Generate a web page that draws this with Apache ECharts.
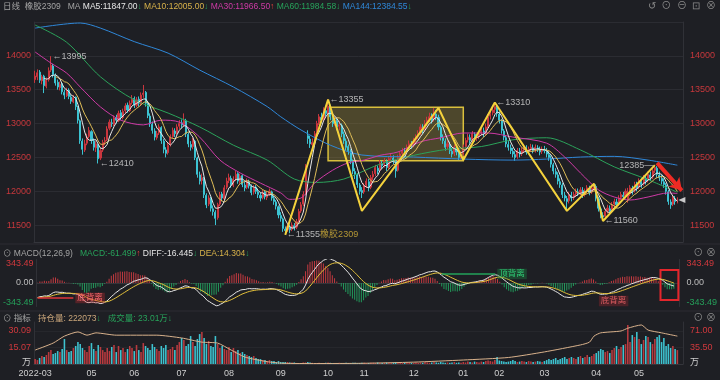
<!DOCTYPE html>
<html><head><meta charset="utf-8"><title>橡胶2309</title>
<script src="https://cdn.jsdelivr.net/npm/echarts/dist/echarts.min.js"></script>
<style>html,body{margin:0;padding:0;background:#1e1f24;overflow:hidden}#chart{width:720px;height:380px}</style>
</head><body><div id="chart"></div>
<script>
// ---------------- data ----------------
const months = ['2022-03','2022-04','2022-05','2022-06','2022-07','2022-08','2022-09','2022-10','2022-11','2022-12','2023-01','2023-02','2023-03','2023-04','2023-05'];
const monthBarCounts = [6,19,19,21,21,23,21,16,22,22,16,20,23,19,18];
const monthTickLabels = ['2022-03','','05','06','07','08','09','10','11','12','01','02','03','04','05'];
const padSlots = 2;

// daily candles [open, close, low, high]
const ohlc = [
[13650,13700,13600,13780],[13690,13750,13640,13800],[13760,13640,13600,13790],[13630,13690,13580,13720],[13700,13560,13450,13720],
[13550,13640,13520,13680],[13650,13780,13620,13830],[13790,13860,13760,13995],[13850,13720,13680,13880],[13710,13600,13560,13740],
[13610,13540,13500,13650],[13530,13580,13490,13620],[13590,13470,13430,13610],[13460,13420,13360,13500],[13410,13480,13390,13530],
[13490,13400,13360,13520],[13390,13330,13290,13420],[13320,13380,13300,13420],[13390,13250,13200,13400],[13240,13050,13000,13260],
[13040,12750,12700,13060],[12740,12620,12540,12780],[12610,12700,12580,12760],[12710,12800,12680,12850],[12810,12900,12780,12950],
[12880,12750,12700,12900],[12740,12650,12600,12780],[12640,12700,12580,12740],[12690,12480,12410,12700],[12490,12600,12460,12640],
[12610,12720,12580,12760],[12730,12750,12680,12800],[12760,12920,12740,12960],[12930,13020,12900,13060],[13010,13000,12950,13070],
[12990,13080,12960,13120],[13090,13050,13000,13130],[13040,13150,13020,13190],[13160,13100,13050,13200],[13090,13180,13060,13220],
[13190,13260,13150,13300],[13270,13200,13160,13310],[13190,13300,13170,13340],[13310,13360,13280,13420],[13370,13280,13230,13400],
[13270,13350,13240,13390],[13360,13300,13250,13400],[13290,13420,13270,13460],[13430,13450,13380,13570],[13460,13300,13250,13480],
[13290,13120,13080,13320],[13110,13000,12950,13150],[12990,12900,12850,13030],[12890,12800,12750,12930],[12790,12850,12760,12890],
[12860,12950,12830,12990],[12940,12750,12700,12960],[12740,12620,12560,12770],[12610,12560,12500,12650],[12570,12680,12540,12720],
[12690,12800,12660,12840],[12810,12900,12780,12940],[12890,12850,12800,12930],[12860,12950,12830,12990],[12960,13000,12920,13050],
[13010,12980,12930,13060],[12990,13050,12950,13150],[13040,12850,12800,13070],[12840,12700,12650,12870],[12690,12650,12600,12740],
[12660,12750,12620,12790],[12740,12500,12460,12760],[12490,12250,12200,12510],[12240,12150,12100,12290],[12160,12200,12100,12260],
[12190,11950,11900,12210],[11940,11800,11750,11970],[11810,11900,11780,11940],[11890,11750,11700,11920],[11740,11700,11640,11790],
[11690,11600,11500,11720],[11610,11800,11580,11830],[11810,11950,11780,11990],[11960,11900,11850,11990],[11890,12050,11870,12090],
[12060,12150,12030,12200],[12160,12200,12120,12260],[12190,12100,12050,12230],[12090,12180,12060,12220],[12190,12250,12150,12300],
[12260,12150,12110,12280],[12140,12220,12110,12260],[12230,12100,12060,12250],[12090,12050,12000,12140],[12060,12150,12030,12190],
[12140,12080,12040,12170],[12070,11980,11940,12100],[11990,12050,11950,12090],[12060,12000,11960,12090],[11990,11950,11900,12040],
[11940,11900,11850,11980],[11910,11980,11880,12020],[11990,11920,11880,12010],[11910,11950,11870,11990],[11960,12000,11930,12040],
[11990,11900,11860,12010],[11890,11850,11800,11930],[11840,11780,11730,11870],[11770,11650,11600,11790],[11640,11600,11550,11690],
[11590,11450,11400,11610],[11440,11420,11355,11480],[11430,11480,11400,11520],[11470,11430,11380,11510],[11440,11500,11410,11540],
[11490,11460,11420,11530],[11470,11550,11440,11590],[11560,11700,11540,11740],[11710,11800,11680,11840],[11810,11950,11780,12000],
[11960,12350,11940,12400],[12820,12780,12700,12900],[12770,12700,12640,12820],[12690,12720,12620,12780],[12730,12850,12700,12890],
[12860,13000,12830,13040],[13010,13100,12980,13140],[13090,13050,13000,13160],[13060,13200,13030,13240],[13190,13150,13100,13260],
[13160,13250,13120,13355],[13240,13100,13050,13280],[13090,13000,12950,13150],[13010,13050,12970,13100],[13040,12950,12900,13080],
[12960,12980,12900,13040],[12970,12850,12800,13000],[12840,12750,12700,12880],[12740,12650,12600,12780],[12660,12600,12540,12690],
[12590,12450,12400,12620],[12440,12300,12250,12470],[12290,12250,12180,12340],[12240,12100,12050,12270],[12090,12000,11950,12120],
[12010,11980,11900,12060],[11990,12080,11960,12120],[12090,12150,12050,12190],[12140,12050,12000,12180],[12060,12200,12030,12240],
[12210,12250,12160,12300],[12260,12350,12220,12390],[12340,12300,12250,12380],[12310,12420,12280,12460],[12410,12380,12330,12450],
[12390,12450,12350,12490],[12440,12350,12300,12470],[12360,12480,12330,12510],[12490,12500,12440,12550],[12490,12450,12400,12530],
[12440,12300,12200,12460],[12310,12500,12290,12540],[12510,12550,12470,12590],[12560,12600,12520,12640],[12590,12580,12530,12640],
[12590,12650,12560,12690],[12660,12700,12620,12750],[12690,12680,12630,12740],[12690,12750,12650,12790],[12760,12800,12720,12840],
[12810,12850,12770,12900],[12860,12950,12830,12990],[12940,12900,12850,12990],[12910,13000,12880,13050],[13010,13050,12960,13100],
[13060,13100,13020,13160],[13090,13050,13000,13150],[13060,13150,13030,13230],[13140,13100,13050,13200],[13090,12950,12900,13130],
[12940,12800,12750,12970],[12790,12750,12700,12840],[12740,12650,12600,12780],[12660,12700,12620,12750],[12690,12600,12550,12730],
[12590,12550,12500,12640],[12560,12650,12520,12690],[12640,12580,12530,12680],[12570,12500,12460,12610],[12510,12550,12470,12590],
[12560,12650,12520,12690],[12660,12750,12630,12790],[12760,12800,12720,12850],[12790,12750,12700,12840],[12760,12850,12730,12890],
[12840,12780,12730,12870],[12790,12800,12740,12850],[12810,12850,12770,12890],[12860,12900,12820,12950],[12890,12850,12800,12940],
[12860,12950,12830,13000],[12960,13100,12930,13140],[13110,13150,13060,13200],[13160,13200,13120,13260],[13210,13250,13150,13310],
[13240,13150,13100,13280],[13140,13050,13000,13180],[13040,12900,12850,13070],[12890,12800,12750,12920],[12790,12700,12650,12830],
[12690,12650,12600,12740],[12640,12600,12550,12690],[12590,12550,12500,12640],[12540,12500,12450,12590],[12510,12600,12480,12640],
[12590,12550,12500,12640],[12560,12600,12520,12650],[12610,12650,12570,12690],[12640,12580,12540,12680],[12590,12620,12550,12660],
[12630,12650,12590,12700],[12640,12600,12560,12690],[12610,12650,12570,12690],[12640,12620,12580,12680],[12610,12580,12530,12660],
[12590,12620,12550,12660],[12610,12600,12560,12670],[12590,12550,12500,12640],[12540,12500,12450,12590],[12490,12400,12350,12530],
[12390,12300,12250,12420],[12290,12250,12200,12340],[12240,12150,12100,12280],[12140,12100,12050,12190],[12090,11950,11900,12120],
[11940,11900,11850,11990],[11890,11850,11710,11930],[11860,11950,11820,11990],[11940,11900,11850,11990],[11910,11950,11870,11990],
[11960,12000,11920,12040],[11990,11980,11930,12040],[11970,12020,11940,12060],[12010,11950,11900,12060],[11960,12000,11920,12040],
[12010,12050,11970,12090],[12040,11980,11940,12080],[11990,12050,11960,12090],[12060,12080,12010,12110],[12070,11900,11850,12100],
[11890,11750,11700,11920],[11740,11650,11600,11770],[11640,11620,11560,11690],[11630,11700,11590,11740],[11710,11750,11670,11800],
[11740,11700,11650,11790],[11710,11800,11680,11840],[11810,11850,11770,11890],[11840,11800,11750,11890],[11810,11900,11780,11940],
[11910,11950,11870,11990],[11940,11920,11870,11990],[11930,12000,11890,12040],[11880,11950,11830,12050],[11960,12050,11930,12090],
[12040,12000,11950,12080],[12010,12100,11980,12140],[12090,12050,12000,12140],[12060,12150,12030,12190],[12140,12100,12050,12190],
[12110,12200,12080,12240],[12190,12150,12100,12240],[12160,12250,12130,12290],[12240,12200,12150,12290],[12210,12300,12180,12340],
[12310,12350,12270,12385],[12340,12250,12200,12370],[12240,12200,12150,12290],[12190,12150,12100,12240],[12140,12100,12050,12190],
[12090,12000,11950,12120],[11990,11850,11800,12020],[11840,11800,11740,11880],[11810,11900,11780,11940],[11890,11850,11800,11930],
[11860,11870,11820,11910]
];

// volume (万, left scale)
const volume = [
4.5,3.6,5.5,7.3,6.4,8.2,10.9,12.7,9.1,10,
11.8,10.9,13.7,22.8,12.7,10.9,11.8,14.6,16.4,20,
18.2,14.6,12.7,10.9,16.4,19.1,13.7,11.8,17.3,15.5,
12.7,10.9,14.6,11.8,15.5,17.3,10.9,16.4,12.7,14.6,
10.9,13.7,16.4,14.6,11.8,17.3,12.7,10.9,19.1,16.4,
14.6,12.7,18.2,15.5,13.7,11.8,16.4,14.6,17.3,12.7,
13.7,15.5,12.7,17.3,20,23.7,21.9,16.4,18.2,25.5,
20,16.4,22.8,27.3,29.1,23.7,18.2,21,16.4,15.5,
25.5,18.2,14.6,16.4,13.7,12.7,15.5,10.9,14.6,11.8,
12.7,10,10.9,9.1,8.2,7.3,6.4,7.3,5.5,4.5,
4.5,3.6,3.6,2.7,3.6,2.7,2.7,1.8,2.7,1.8,
1.8,1.8,1.8,1.4,1.4,1.4,0.9,0.9,0.9,1.4,
1.4,1.8,1.4,1.1,0.9,0.9,1.1,0.9,0.9,1.1,
1.4,1.1,0.9,0.9,0.9,1.1,0.9,0.9,1.1,0.9,
0.9,1.1,1.1,0.9,0.9,1.1,1.1,0.9,0.9,1.1,
1.1,0.9,1.4,1.1,0.9,1.1,1.4,1.1,0.9,1.1,
1.8,1.4,1.1,0.9,1.1,1.4,1.1,0.9,1.1,1.4,
1.1,1.4,1.1,1.8,1.4,1.1,1.4,1.8,1.4,1.1,
1.8,1.4,1.1,1.4,1.1,1.4,1.8,1.1,1.4,1.1,
1.8,1.4,2.2,1.8,1.4,2.2,1.8,1.4,2.2,1.8,
2.7,3.2,2.7,2.2,3.6,6.4,3.2,2.7,2.2,1.8,
2.2,2.7,3.6,2.7,1.8,2.2,2.7,2.2,1.8,2.7,
2.2,1.8,2.2,2.7,2.2,1.8,2.7,3.6,4.5,3.6,
4.5,5.5,3.6,4.5,5.5,6.4,4.5,5.5,6.4,5.5,
4.5,6.4,7.3,5.5,6.4,8.2,6.4,7.3,9.1,10,
11.8,13.7,12.7,10.9,11.8,10,12.7,14.6,16.4,13.7,
15.5,17.3,18.2,35.5,20,26.4,24.6,29.1,22.8,18.2,
21.9,25.5,24.6,20,18.2,22.8,24.6,26.4,20,23.7,
16.4,18.2,14.6,16.4,13.7,12.7
];

// open interest, read at points [barIndex, value on right scale]
const openInterest = [[0,30],[8,45],[13,60],[19,69],[23,62],[27,67],[36,62],[54,62],[65,56],[74,47],[81,45],[87,30],[93,15],[103,5],[110,1.5],[125,1],[145,1.5],[168,4],[190,8.6],[210,14],[226,26],[242,41],[246,47],[248,60],[251,67],[260,71],[263,77],[269,84],[272,73],[278,67],[285,60]];

// longer moving averages [barIndex, price]
const ma30Points = [[0,14057],[7,13894],[14,13745],[20,13540],[29,13245],[38,13050],[48,12980],[56,13050],[64,13020],[73,12800],[82,12460],[91,12270],[100,12120],[109,11975],[113,11880],[118,11900],[124,12120],[132,12310],[139,12420],[146,12460],[153,12530],[161,12580],[171,12730],[180,12790],[190,12860],[201,12860],[212,12800],[227,12710],[235,12505],[242,12270],[250,12020],[257,11915],[264,11870],[272,11915],[281,11975],[285,11966.5]];
const ma60Points = [[0,14455],[14,14200],[29,13690],[44,13350],[59,13155],[73,12950],[88,12680],[103,12460],[115,12180],[125,12130],[137,12180],[153,12400],[168,12530],[183,12620],[198,12660],[212,12760],[227,12790],[242,12610],[257,12360],[272,12170],[285,11984.58]];
const ma144Points = [[0,14410],[20,14485],[29,14410],[44,14210],[59,14040],[73,13790],[88,13540],[103,13250],[109,13100],[118,12905],[131,12680],[145,12535],[168,12505],[190,12475],[212,12460],[227,12475],[242,12505],[257,12515],[272,12460],[285,12384.55]];

// drawing annotations
const zigzag = [[111,11355],[130,13355],[145,11710],[179,13230],[190,12460],[204,13310],[236,11710],[248,12110],[252,11560],[275,12385]];
const boxCorners = [[130,13240],[190,12450]];
const trendArrow = [[276,12420],[287,12010]];
const swingLabels = [[7,13995,'←13995','right'],[28,12410,'←12410','right'],[111,11355,'←11355{y|橡胶2309}','right'],[130,13355,'←13355','right'],[204,13310,'←13310','right'],[275,12385,'12385—','left'],[252,11560,'←11560','right']];

// MACD(12,26,9) starting state
const macdSeed = {ema12:13810, ema26:14030, dea:-215};
const divergenceLines = [[[0,-219],[16,-219],'底背离','red'],[[181,132],[205,132],'顶背离','green']];
const divergenceNotes = [[258,-263,'底背离']];
const macdBox = [[279,190],[287,-250]];

// header texts [top, rich text]
const headerTexts = [
  [2,'{g|日线  橡胶2309}   {g|MA} {w|MA5:11847.00}{dn|↓} {yl|MA10:12005.00}{dn|↓} {mg|MA30:11966.50}{up|↑} {gn|MA60:11984.58}{dn|↓} {bl|MA144:12384.55}{dn|↓}'],
  [249,'{g|⊙ MACD(12,26,9)}   {gn|MACD:-61.499}{up|↑} {w|DIFF:-16.445}{dn|↓} {yl|DEA:14.304}{dn|↓}'],
  [314,'{g|⊙ 指标}   {tan|持仓量: 222073}{dn|↓}   {gn|成交量: 23.01万}{dn|↓}']
];
const iconTexts = [[1,'{ic|↺  ⊙  ⊖  ⊡  ⊗}'],[248,'{ic|⊙ ⊗}'],[313,'{ic|⊙ ⊗}']];

// tick labels
const priceTicks = [11500,12000,12500,13000,13500,14000];
const macdTickLabels = [[-343.49,'-343.49'],[0,'0.00'],[343.49,'343.49']];
const volLeftTicks = [[0,'万'],[15.045,'15.07'],[30.09,'30.09']];
const volRightTicks = [[0,'万'],[35.5,'35.50'],[71,'71.00']];

// ---------------- build ----------------
const FONT = '"Liberation Sans", "Noto Sans CJK SC", sans-serif';
const UP = '#c9363e', DOWN = '#3cc3d2', RED = '#d2393d', GREEN = '#25a05a';
const HS = 8.5, AS = 9;

const categories = []; const monthLabelAt = {};
months.forEach((m,k)=>{ monthLabelAt[categories.length] = monthTickLabels[k]; for(let d=1; d<=monthBarCounts[k]; d++) categories.push(m+'-#'+d); });
for(let p=1;p<=padSlots;p++) categories.push('pad'+p);

const closes = ohlc.map(d=>d[1]);
function movingAvg(n){ return closes.map((c,i)=> i<n-1 ? null : +(closes.slice(i-n+1,i+1).reduce((a,b)=>a+b,0)/n).toFixed(2)); }
const ma5 = movingAvg(5), ma10 = movingAvg(10);
const diff=[], dea=[], macdBar=[];
{ let e12=macdSeed.ema12, e26=macdSeed.ema26, d=macdSeed.dea;
  closes.forEach(c=>{ e12=e12*11/13+c*2/13; e26=e26*25/27+c*2/27; const df=e12-e26; d=d*0.8+df*0.2;
    diff.push(+df.toFixed(3)); dea.push(+d.toFixed(3)); macdBar.push(+(2*(df-d)).toFixed(3)); }); }

const lblFromTicks = (ticks)=> v => { for(const [t,s] of ticks){ if(Math.abs(v-t)<1e-6) return s; } return ''; };

function richTok(color, size){ return {color, fontSize:size||HS, fontFamily:FONT, fontWeight:'normal'}; }
const hdrRich = {g:richTok('#a3a3a3'), w:richTok('#e6e6e6'), yl:richTok('#d8b24a'), mg:richTok('#cf3aa6'), gn:richTok('#27a25a'),
  bl:richTok('#2f87d8'), up:richTok('#e5403b'), dn:richTok('#27a25a'), tan:richTok('#c9a57a'), ic:richTok('#8a8a8a',10)};

const titles = headerTexts.map(([t,txt])=>({left:3, top:t, padding:0, text:txt, textStyle:{fontWeight:'normal', fontSize:HS, rich:hdrRich}}))
  .concat(iconTexts.map(([t,txt])=>({right:4, top:t, padding:0, text:txt, textStyle:{fontWeight:'normal', rich:hdrRich}})));

const xAxes = [0,1,2].map(g=>({type:'category', gridIndex:g, data:categories, boundaryGap:true,
  axisLine:{show:true, lineStyle:{color:'#34353b'}}, axisTick:{show:false}, splitLine:{show:false},
  axisLabel: g===2 ? {show:true, interval:(i)=>!!monthLabelAt[i], formatter:(v,i)=>monthLabelAt[i]||'', color:'#cfcfcf', fontSize:AS, fontFamily:FONT, margin:5} : {show:false}
}));

const priceAxis = (pos)=>({type:'value', gridIndex:0, position:pos, min:11250, max:14500, interval:250, scale:true,
  axisLine:{show:true, lineStyle:{color:'#303137'}}, axisTick:{show:false},
  axisLabel:{color:'#c8383c', fontSize:AS, fontFamily:FONT, margin:pos==='left'?3:7, formatter:v=>priceTicks.includes(v)?String(v):''},
  splitLine:{show:pos==='left', lineStyle:{color:['rgba(0,0,0,0)','#2b2c32'], width:1}}});

const macdAxis = (pos)=>({type:'value', gridIndex:1, position:pos, min:-343.49, max:343.49, interval:343.49,
  axisLine:{show:true, lineStyle:{color:'#303137'}}, axisTick:{show:false}, splitLine:{show:false},
  axisLabel:{fontSize:AS, fontFamily:FONT, margin:pos==='left'?3:7,
    formatter:v=>{ const s=lblFromTicks(macdTickLabels)(v); return v>0?'{p|'+s+'}':(v<0?'{n|'+s+'}':'{z|'+s+'}'); },
    rich:{p:{color:RED,fontSize:AS,fontFamily:FONT,padding:[8,0,0,0]}, n:{color:GREEN,fontSize:AS,fontFamily:FONT,padding:[0,0,8,0]}, z:{color:'#bdbdbd',fontSize:AS,fontFamily:FONT}}}});

const volAxis = (pos, max, interval, ticks)=>({type:'value', gridIndex:2, position:pos, min:0, max, interval,
  axisLine:{show:true, lineStyle:{color:'#303137'}}, axisTick:{show:false},
  splitLine:{show:pos==='left', lineStyle:{color:['rgba(0,0,0,0)','#26272c','#26272c','rgba(0,0,0,0)']}},
  axisLabel:{fontSize:AS, fontFamily:FONT, margin:pos==='left'?3:7,
    formatter:v=>{ const s=lblFromTicks(ticks)(v); return s==='万'?'{u|万}':(s?'{r|'+s+'}':''); },
    rich:{u:{color:'#d0d0d0',fontSize:AS,fontFamily:FONT,padding:[0,0,2,0]}, r:{color:RED,fontSize:AS,fontFamily:FONT}}}});

const maLine = (name, data, color, smooth)=>({name, type:'line', xAxisIndex:0, yAxisIndex:0, data, showSymbol:false, symbol:'none',
  smooth: smooth||false, connectNulls:false, lineStyle:{color, width:1}, z:4, silent:true});

const option = {
  backgroundColor:'#1e1f24', animation:false,
  textStyle:{fontFamily:FONT},
  grid:[{left:34,right:37,top:22,height:220},{left:34,right:37,top:259.5,height:47},{left:34,right:37,top:322,height:42}],
  xAxis:xAxes,
  yAxis:[priceAxis('left'), priceAxis('right'), macdAxis('left'), macdAxis('right'),
    volAxis('left', 38.3, 15.045, volLeftTicks), volAxis('right', 90.36, 35.5, volRightTicks)],
  title:titles,
  graphic:[
    {type:'line', silent:true, shape:{x1:0,y1:244,x2:720,y2:244}, style:{stroke:'#2c2d33', lineWidth:1}},
    {type:'line', silent:true, shape:{x1:0,y1:311,x2:720,y2:311}, style:{stroke:'#2c2d33', lineWidth:1}}
  ],
  series:[
    {name:'K', type:'candlestick', xAxisIndex:0, yAxisIndex:0, data:ohlc, barWidth:'70%', z:2,
      itemStyle:{color:UP, color0:DOWN, borderColor:UP, borderColor0:DOWN, borderWidth:1},
      markArea:{silent:true, itemStyle:{color:'rgba(165,145,60,0.35)', borderColor:'#d9bf3c', borderWidth:1.5},
        data:[[{coord:boxCorners[0]},{coord:boxCorners[1]}]]}},
    maLine('MA144', ma144Points, '#2f87d8', 0.3),
    maLine('MA60', ma60Points, '#2ba25a', 0.3),
    maLine('MA30', ma30Points, '#cf3aa6', 0.3),
    maLine('MA10', ma10, '#e0be58'),
    maLine('MA5', ma5, '#e8e8e8'),
    {name:'zigzag', type:'line', xAxisIndex:0, yAxisIndex:0, data:zigzag, symbol:'none', lineStyle:{color:'#f4d23c', width:2}, z:5, silent:true,
      markLine:{silent:true, symbol:['none','arrow'], symbolSize:[11,12], label:{show:false},
        lineStyle:{color:'#ee2b24', width:4, type:'solid', opacity:1},
        data:[[{coord:trendArrow[0]},{coord:trendArrow[1]}]]}},
    {name:'swing', type:'scatter', xAxisIndex:0, yAxisIndex:0, symbolSize:1, itemStyle:{color:'rgba(0,0,0,0)'}, z:6, silent:true,
      label:{show:true, color:'#dadada', fontSize:AS, fontFamily:FONT, distance:1, rich:{y:{color:'#d8b43a', fontSize:AS, fontFamily:FONT}}},
      data:swingLabels.map(([i,p,t,side])=>({value:[i,p], label:{position:side, formatter:t}}))},
    {name:'last', type:'scatter', xAxisIndex:0, yAxisIndex:0, symbol:'triangle', symbolRotate:90, symbolSize:[6,7], z:6, silent:true,
      itemStyle:{color:'#f2f2f2'}, data:[[categories.length-1, closes[closes.length-1]]]},
    {name:'MACD', type:'bar', xAxisIndex:1, yAxisIndex:2, barWidth:1, clip:true, silent:true,
      data:macdBar.map(v=>({value:v, itemStyle:{color:v>=0?'#c23a40':'#22985a'}}))},
    {name:'DIFF', type:'line', xAxisIndex:1, yAxisIndex:2, data:diff, symbol:'none', lineStyle:{color:'#e6e6e6', width:1}, z:4, silent:true,
      markLine:{silent:true, symbol:'none',
        data:divergenceLines.map(([a,b,t,c])=>{ const col=c==='red'?'#e0363b':'#23a35a';
          const lab={show:true, position:'end', formatter:t, color:c==='red'?'#ff6a6e':'#2fcf77', fontSize:8.5, fontFamily:FONT,
            backgroundColor:c==='red'?'rgba(190,40,45,0.35)':'rgba(30,140,70,0.35)', padding:[1,2], distance:2};
          return [{coord:a, lineStyle:{color:col,width:1.5,type:'solid'}, label:lab},{coord:b, lineStyle:{color:col,width:1.5,type:'solid'}, label:lab}]; })}},
    {name:'DEA', type:'line', xAxisIndex:1, yAxisIndex:2, data:dea, symbol:'none', lineStyle:{color:'#e3c03a', width:1}, z:4, silent:true,
      markArea:{silent:true, itemStyle:{color:'rgba(0,0,0,0)', borderColor:'#e4262c', borderWidth:2},
        data:[[{coord:macdBox[0]},{coord:macdBox[1]}]]}},
    {name:'notes', type:'scatter', xAxisIndex:1, yAxisIndex:2, symbolSize:1, itemStyle:{color:'rgba(0,0,0,0)'}, silent:true, z:6,
      label:{show:true, position:'inside', color:'#ff6a6e', fontSize:8.5, fontFamily:FONT, backgroundColor:'rgba(190,40,45,0.35)', padding:[1,2]},
      data:divergenceNotes.map(([i,v,t])=>({value:[i,v], label:{formatter:t}}))},
    {name:'成交量', type:'bar', xAxisIndex:2, yAxisIndex:4, barWidth:'70%', silent:true,
      data:volume.map((v,i)=>({value:v, itemStyle:{color: ohlc[i][1]>=ohlc[i][0] ? '#b83a3f' : '#3ec3d0'}}))},
    {name:'持仓量', type:'line', xAxisIndex:2, yAxisIndex:5, data:openInterest, symbol:'none', smooth:0.2, lineStyle:{color:'#d9b28c', width:1}, z:4, silent:true}
  ]
};
const chart = echarts.init(document.getElementById('chart'), null, {renderer:'canvas'});
chart.setOption(option);
</script></body></html>
